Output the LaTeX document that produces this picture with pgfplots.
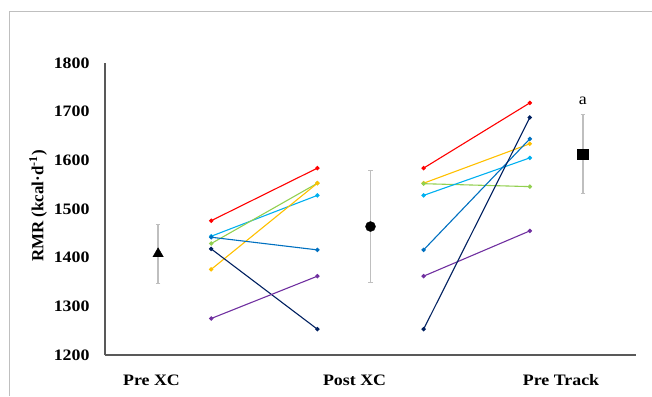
\documentclass[border=0pt]{standalone}
\usepackage{fontspec}
\setmainfont{Liberation Serif}[FakeStretch=1.12]
\newfontfamily\plainfont{Liberation Serif}
\usepackage{pgfplots}
\pgfplotsset{compat=1.18}
\definecolor{cred}{HTML}{FF0000}
\definecolor{cyel}{HTML}{FFC000}
\definecolor{cgrn}{HTML}{92D050}
\definecolor{ccya}{HTML}{00B0F0}
\definecolor{cblu}{HTML}{0070C0}
\definecolor{cnav}{HTML}{002060}
\definecolor{cpur}{HTML}{7030A0}
\definecolor{axgray}{HTML}{595959}
\definecolor{errgray}{HTML}{BFBFBF}
\definecolor{framegray}{HTML}{BFBFBF}
\begin{document}
\begin{tikzpicture}[x=1bp,y=1bp]
\draw[framegray, line width=0.9bp] (9,0) -- (9,385) -- (652,385);
\begin{axis}[at={(105bp,41bp)}, anchor=south west, scale only axis,
  width=531bp, height=292bp,
  xmin=-0.25, xmax=2.25, ymin=1200, ymax=1800,
  axis x line*=bottom, axis y line*=left,
  axis line style={-, draw=axgray, line width=1.2bp},
  ytick={1200,1300,...,1800},
  major tick length=0pt, tick style={draw=none},
  xtick={-0.031,0.925,1.897}, xticklabels={Pre XC, Post XC, Pre Track},
  ticklabel style={font=\fontsize{16}{17}\selectfont\bfseries},
  /pgf/number format/assume math mode=true,
  /pgf/number format/1000 sep={},
  xticklabel style={yshift=-16bp},
  yticklabel style={xshift=-12bp},
  ylabel={RMR (kcal·d\textsuperscript{-1})},
  every axis y label/.style={at={(axis description cs:-0.126,0.51)}, rotate=90, anchor=center,
    font=\plainfont\fontsize{17}{18}\selectfont\bfseries},
  clip=false,
]
% Pre XC -> Post XC
\addplot[cred, line width=1.1bp, mark=*, mark size=1.6bp] coordinates {(0.25,1476) (0.75,1584)};
\addplot[ccya, line width=1.1bp, mark=*, mark size=1.6bp] coordinates {(0.25,1444) (0.75,1528)};
\addplot[cgrn, line width=1.1bp, mark=*, mark size=1.6bp] coordinates {(0.25,1429) (0.75,1553)};
\addplot[cyel, line width=1.1bp, mark=*, mark size=1.6bp] coordinates {(0.25,1376) (0.75,1553)};
\addplot[cblu, line width=1.1bp, mark=*, mark size=1.6bp] coordinates {(0.25,1442) (0.75,1416)};
\addplot[cnav, line width=1.1bp, mark=*, mark size=1.6bp] coordinates {(0.25,1418) (0.75,1253)};
\addplot[cpur, line width=1.1bp, mark=*, mark size=1.6bp] coordinates {(0.25,1275) (0.75,1362)};
% Post XC -> Pre Track
\addplot[cred, line width=1.1bp, mark=*, mark size=1.6bp] coordinates {(1.25,1584) (1.75,1718)};
\addplot[cyel, line width=1.1bp, mark=*, mark size=1.6bp] coordinates {(1.25,1553) (1.75,1634)};
\addplot[cgrn, line width=1.1bp, mark=*, mark size=1.6bp] coordinates {(1.25,1552) (1.75,1546)};
\addplot[ccya, line width=1.1bp, mark=*, mark size=1.6bp] coordinates {(1.25,1528) (1.75,1605)};
\addplot[cblu, line width=1.1bp, mark=*, mark size=1.6bp] coordinates {(1.25,1416) (1.75,1644)};
\addplot[cpur, line width=1.1bp, mark=*, mark size=1.6bp] coordinates {(1.25,1362) (1.75,1455)};
\addplot[cnav, line width=1.1bp, mark=*, mark size=1.6bp] coordinates {(1.25,1253) (1.75,1688)};
% means with SD
\addplot[only marks, black, mark=triangle*, mark size=6bp,
  error bars/.cd, y dir=both, y explicit,
  error bar style={errgray, line width=1.3bp},
  error mark options={errgray, rotate=90, mark size=2.2bp, line width=1bp}]
  coordinates {(0,1408) +- (0,61)};
\addplot[only marks, black, mark=*, mark size=5bp,
  error bars/.cd, y dir=both, y explicit,
  error bar style={errgray, line width=1.3bp},
  error mark options={errgray, rotate=90, mark size=2.2bp, line width=1bp}]
  coordinates {(1,1464) +- (0,115)};
\addplot[only marks, black, mark=square*, mark size=5.3bp,
  error bars/.cd, y dir=both, y explicit,
  error bar style={errgray, line width=1.3bp},
  error mark options={errgray, rotate=90, mark size=2.2bp, line width=1bp}]
  coordinates {(2,1613) +- (0,82)};
\node[font=\fontsize{16}{17}\selectfont] at (axis cs:2,1722) {a};
\end{axis}
\pgfresetboundingbox
\useasboundingbox (0,0) rectangle (652,396);
\end{tikzpicture}
\end{document}
